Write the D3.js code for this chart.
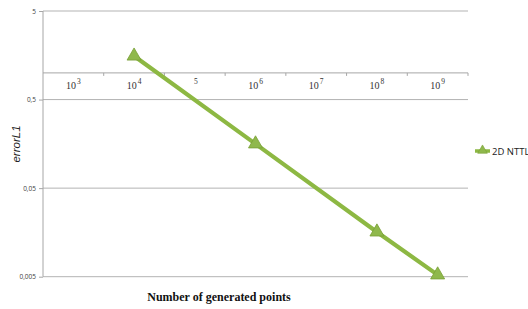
<!DOCTYPE html>
<html><head><meta charset="utf-8">
<script src="https://cdn.jsdelivr.net/npm/d3@7"></script>
<style>body{margin:0;background:#fff;overflow:hidden}svg{display:block}</style>
</head><body>
<script>
const categories = ["3","4","5","6","7","8","9"];
const categoryBase = ["10","10","","10","10","10","10"];
const seriesName = "2D NTTL";
const values = [null, 1.55, null, 0.158, null, 0.0160, 0.00524];
const yTicks = [0.005, 0.05, 0.5, 5];
const yTickLabels = ["0,005", "0,05", "0,5", "5"];

const W = 528, H = 309;
const svg = d3.select("body").append("svg").attr("width", W).attr("height", H);

const x = d3.scaleBand().domain(categories).range([43, 468]).padding(0);
const y = d3.scaleLog().domain([0.005, 5]).range([276.7, 11]);

// gridlines
svg.append("g").selectAll("line").data(yTicks).join("line")
  .attr("x1", 43).attr("x2", 468)
  .attr("y1", d => y(d)).attr("y2", d => y(d))
  .attr("stroke", "#b3b3b3").attr("stroke-width", 1);

// y axis
const yAxis = d3.axisLeft(y).tickValues(yTicks)
  .tickFormat((d, i) => yTickLabels[i]).tickSize(4).tickPadding(3);
const yg = svg.append("g").attr("transform", "translate(43,0)").call(yAxis);
yg.select(".domain").attr("stroke", "#a6a6a6").attr("d", `M0,${y(5)}V${y(0.005)}`);
yg.selectAll(".tick line").attr("stroke", "#a6a6a6");
yg.selectAll(".tick text").attr("font-family", "Open Sans, Liberation Sans, sans-serif")
  .attr("font-size", 6.5).attr("fill", "#404040");

// category axis crossing at 1
const ax = y(1);
svg.append("line").attr("x1", 43).attr("x2", 468).attr("y1", ax).attr("y2", ax)
  .attr("stroke", "#a6a6a6");
const bounds = categories.map(c => x(c) + x.bandwidth());
svg.append("g").selectAll("line").data(bounds).join("line")
  .attr("x1", d => d).attr("x2", d => d).attr("y1", ax).attr("y2", ax + 3)
  .attr("stroke", "#a6a6a6");
const lab = svg.append("g").selectAll("text").data(categories).join("text")
  .attr("x", d => x(d) + x.bandwidth() / 2).attr("y", ax + 16)
  .attr("text-anchor", "middle")
  .attr("font-family", "Liberation Serif, serif").attr("font-size", 10).attr("fill", "#333");
lab.each(function(d, i) {
  const t = d3.select(this);
  t.append("tspan").text(categoryBase[i]);
  t.append("tspan").attr("dy", -5).attr("dx", 1).attr("font-size", 7.5).text(d);
});

// line
const pts = categories.map((c, i) => ({c, v: values[i]})).filter(p => p.v != null);
const line = d3.line().x(p => x(p.c) + x.bandwidth() / 2).y(p => y(p.v));
svg.append("path").datum(pts).attr("d", line).attr("fill", "none")
  .attr("stroke", "#8db843").attr("stroke-width", 4.2).attr("stroke-linejoin", "round");

const tri = d3.symbol().type(d3.symbolTriangle).size(85);
svg.append("g").selectAll("path").data(pts).join("path")
  .attr("d", tri)
  .attr("transform", p => `translate(${x(p.c) + x.bandwidth() / 2},${y(p.v)})`)
  .attr("fill", "#8fb84c").attr("stroke", "#789f36").attr("stroke-width", 0.8);

// legend
const ly = 151;
svg.append("line").attr("x1", 475).attr("x2", 490).attr("y1", ly).attr("y2", ly)
  .attr("stroke", "#8db843").attr("stroke-width", 3.5);
svg.append("path").attr("d", d3.symbol().type(d3.symbolTriangle).size(40))
  .attr("transform", `translate(482.5,${ly - 0.5})`)
  .attr("fill", "#8fb84c").attr("stroke", "#789f36").attr("stroke-width", 0.6);
svg.append("text").attr("x", 492).attr("y", ly + 3.5)
  .attr("font-family", "Open Sans, Liberation Sans, sans-serif").attr("font-size", 9.5)
  .attr("fill", "#222").text(seriesName);

// titles
svg.append("text").attr("transform", "translate(20,144) rotate(-90)")
  .attr("text-anchor", "middle").attr("font-family", "Liberation Sans, Arial, sans-serif")
  .attr("font-style", "italic").attr("font-size", 11.5).attr("fill", "#222").text("errorL1");
svg.append("text").attr("x", 219).attr("y", 301).attr("text-anchor", "middle")
  .attr("font-family", "Liberation Serif, Times New Roman, serif").attr("font-weight", "bold")
  .attr("font-size", 12).attr("fill", "#111").text("Number of generated points");
</script>
</body></html>
